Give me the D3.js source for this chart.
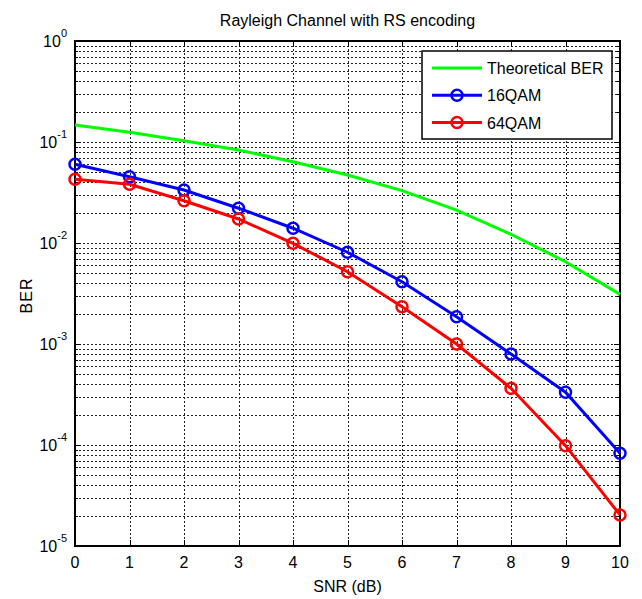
<!DOCTYPE html>
<meta charset="utf-8">
<script src="https://d3js.org/d3.v7.min.js"></script>
<style>
  body { margin: 0; background: #fff; }
  text { font-family: "Liberation Sans", Arial, sans-serif; fill: #000; }
</style>
<div id="chart"></div>
<script>
  // data
  const snr = [0, 1, 2, 3, 4, 5, 6, 7, 8, 9, 10];
  const theoryBer = [0.147, 0.1248, 0.103, 0.0833, 0.0638, 0.0471, 0.033, 0.0212, 0.0122, 0.00653, 0.0031];
  const qam16 = [0.0601, 0.0453, 0.0335, 0.0221, 0.014, 0.0081, 0.00414, 0.00186, 0.000796, 0.000333, 0.0000828];
  const qam64 = [0.0428, 0.0381, 0.0262, 0.0173, 0.00993, 0.0052, 0.00234, 0.001, 0.000364, 0.0000985, 0.0000203];
  const yExponents = [0, -1, -2, -3, -4, -5];
  const seriesNames = ["Theoretical BER", "16QAM", "64QAM"];
  const seriesColors = ["#00ff00", "#0000ff", "#ff0000"];

  const W = 642, H = 599;
  const margin = { top: 41, right: 22, bottom: 53, left: 75 },
    width = W - margin.left - margin.right,
    height = H - margin.top - margin.bottom;

  const svg = d3.select("#chart").append("svg")
    .attr("width", W)
    .attr("height", H);

  const g = svg.append("g")
    .attr("transform", `translate(${margin.left},${margin.top})`);

  const x = d3.scaleLinear().domain([0, 10]).range([0, width]);
  const y = d3.scaleLog().domain([1e-5, 1]).range([height, 0]);

  // minor log values
  const minor = [];
  for (let e = -5; e < 0; e++) {
    for (let m = 2; m <= 9; m++) minor.push(m * Math.pow(10, e));
  }
  const major = yExponents.map(e => Math.pow(10, e));

  // grid
  const grid = g.append("g")
    .attr("stroke", "#222")
    .attr("stroke-width", 1)
    .attr("stroke-dasharray", "2,2");
  grid.selectAll(".gx").data(snr.slice(1, -1)).enter().append("line")
    .attr("x1", d => Math.round(x(d)) + 0.5).attr("x2", d => Math.round(x(d)) + 0.5)
    .attr("y1", 0).attr("y2", height);
  grid.selectAll(".gy").data(minor.concat(major.slice(1, -1))).enter().append("line")
    .attr("x1", 0).attr("x2", width)
    .attr("y1", d => Math.round(y(d)) + 0.5).attr("y2", d => Math.round(y(d)) + 0.5);

  // ticks inward on all sides
  const ticks = g.append("g").attr("stroke", "#000").attr("stroke-width", 1);
  major.forEach(v => {
    const yy = Math.round(y(v)) + 0.5;
    ticks.append("line").attr("x1", 0).attr("x2", 6).attr("y1", yy).attr("y2", yy);
    ticks.append("line").attr("x1", width).attr("x2", width - 6).attr("y1", yy).attr("y2", yy);
  });
  minor.forEach(v => {
    const yy = Math.round(y(v)) + 0.5;
    ticks.append("line").attr("x1", 0).attr("x2", 3).attr("y1", yy).attr("y2", yy);
    ticks.append("line").attr("x1", width).attr("x2", width - 3).attr("y1", yy).attr("y2", yy);
  });
  snr.forEach(v => {
    const xx = Math.round(x(v)) + 0.5;
    ticks.append("line").attr("x1", xx).attr("x2", xx).attr("y1", height).attr("y2", height - 6);
    ticks.append("line").attr("x1", xx).attr("x2", xx).attr("y1", 0).attr("y2", 6);
  });

  // axis box
  g.append("rect")
    .attr("x", 0).attr("y", 0)
    .attr("width", width).attr("height", height)
    .attr("fill", "none")
    .attr("stroke", "#000")
    .attr("stroke-width", 2);

  // x tick labels
  g.selectAll(".xl").data(snr).enter().append("text")
    .attr("x", d => x(d))
    .attr("y", height + 22)
    .attr("text-anchor", "middle")
    .style("font-size", "16px")
    .text(d => d);

  // y tick labels 10^e
  yExponents.forEach(e => {
    const t = g.append("text")
      .attr("x", -8)
      .attr("y", y(Math.pow(10, e)) + 6)
      .attr("text-anchor", "end")
      .style("font-size", "16px");
    t.append("tspan").text("10");
    t.append("tspan").attr("dy", -10).style("font-size", "11px").text(e);
  });

  // lines
  const line = d3.line().x((d, i) => x(snr[i])).y(d => y(d));
  const series = [theoryBer, qam16, qam64];
  series.forEach((s, k) => {
    g.append("path")
      .datum(s)
      .attr("d", line)
      .attr("fill", "none")
      .attr("stroke", seriesColors[k])
      .attr("stroke-width", 3);
    if (k > 0) {
      g.selectAll(".m" + k).data(s).enter().append("circle")
        .attr("cx", (d, i) => x(snr[i]))
        .attr("cy", d => y(d))
        .attr("r", 5.5)
        .attr("fill", "none")
        .attr("stroke", seriesColors[k])
        .attr("stroke-width", 2.5);
    }
  });

  // title and axis labels
  svg.append("text")
    .attr("x", margin.left + width / 2)
    .attr("y", 26)
    .attr("text-anchor", "middle")
    .style("font-size", "16px")
    .text("Rayleigh Channel with RS encoding");

  svg.append("text")
    .attr("x", margin.left + width / 2)
    .attr("y", 592)
    .attr("text-anchor", "middle")
    .style("font-size", "16px")
    .text("SNR (dB)");

  svg.append("text")
    .attr("transform", `translate(32, ${margin.top + height / 2 + 2}) rotate(-90)`)
    .attr("text-anchor", "middle")
    .style("font-size", "16px")
    .style("letter-spacing", "1px")
    .text("BER");

  // legend
  const lg = svg.append("g").attr("transform", "translate(422, 51)");
  lg.append("rect")
    .attr("width", 190).attr("height", 88)
    .attr("fill", "#fff")
    .attr("stroke", "#000")
    .attr("stroke-width", 1.5);
  seriesNames.forEach((name, k) => {
    const yy = 17 + k * 27.3;
    lg.append("line")
      .attr("x1", 10).attr("x2", 60)
      .attr("y1", yy).attr("y2", yy)
      .attr("stroke", seriesColors[k])
      .attr("stroke-width", 3);
    if (k > 0) {
      lg.append("circle")
        .attr("cx", 35).attr("cy", yy).attr("r", 5.5)
        .attr("fill", "none")
        .attr("stroke", seriesColors[k])
        .attr("stroke-width", 2.5);
    }
    lg.append("text")
      .attr("x", 65).attr("y", yy + 6)
      .style("font-size", "16px")
      .text(name);
  });
</script>
